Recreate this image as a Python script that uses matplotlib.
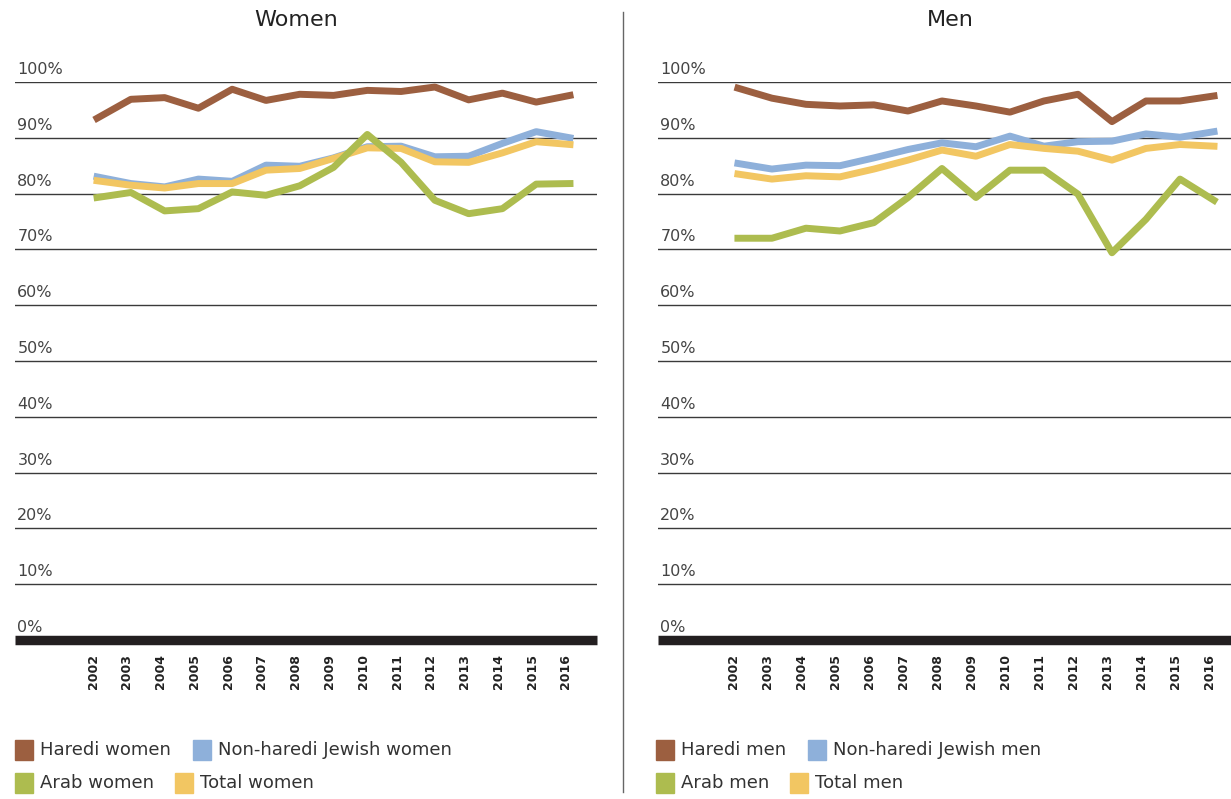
import matplotlib.pyplot as plt
from matplotlib.patches import Rectangle

years = [str(y) for y in range(2002, 2017)]
ticks = [100, 90, 80, 70, 60, 50, 40, 30, 20, 10, 0]

# women
haredi_w = [93.5, 96.9, 97.2, 95.3, 98.7, 96.7, 97.8, 97.6, 98.5, 98.3, 99.1, 96.8, 98.0, 96.4, 97.6]
jewish_w = [83.0, 81.8, 81.2, 82.6, 82.2, 85.1, 84.9, 86.4, 88.4, 88.5, 86.6, 86.7, 89.0, 91.1, 90.0]
arab_w = [79.3, 80.2, 76.9, 77.3, 80.3, 79.7, 81.4, 84.7, 90.6, 85.6, 78.8, 76.4, 77.3, 81.7, 81.8]
total_w = [82.3, 81.5, 81.0, 81.8, 81.8, 84.2, 84.5, 86.3, 88.2, 88.1, 85.7, 85.6, 87.3, 89.3, 88.8]

# men
haredi_m = [98.9, 97.1, 96.0, 95.7, 95.9, 94.8, 96.6, 95.7, 94.6, 96.6, 97.8, 92.9, 96.6, 96.6, 97.5]
jewish_m = [85.4, 84.4, 85.1, 85.0, 86.4, 87.9, 89.1, 88.4, 90.3, 88.5, 89.3, 89.4, 90.7, 90.1, 91.1]
arab_m = [72.0, 72.0, 73.8, 73.3, 74.8, 79.3, 84.5, 79.3, 84.2, 84.2, 79.9, 69.4, 75.4, 82.6, 78.8]
total_m = [83.5, 82.6, 83.2, 83.0, 84.4, 86.0, 87.8, 86.7, 88.8, 88.1, 87.6, 86.0, 88.1, 88.8, 88.5]

labels_w = ["Haredi women", "Non-haredi Jewish women", "Arab women", "Total women"]
labels_m = ["Haredi men", "Non-haredi Jewish men", "Arab men", "Total men"]

c_haredi = '#9c5f40'
c_jewish = '#8eb0da'
c_arab = '#adbc4f'
c_total = '#f2c662'

W, H = 1231, 799
fig = plt.figure(figsize=(W / 100, H / 100), dpi=100)

def panel(left, right, xlo, xhi, title, title_x, h, j, a, t, labs, leg_x):
    ax = fig.add_axes([left / W, 1 - 640 / H, (right - left) / W, (640 - 82) / H])
    x = list(range(len(years)))
    for v in ticks[:-1]:
        ax.axhline(v, color='#3a3a3a', lw=1.0, zorder=1)
    ax.axhline(0, color='#231f20', lw=6.8, zorder=1, solid_capstyle='butt', clip_on=False)
    for v in ticks:
        ax.text(0.004, v + 0.9, f"{v}%", transform=ax.get_yaxis_transform(),
                fontsize=11.5, color='#444444', ha='left', va='bottom')
    ax.plot(x, j, color=c_jewish, lw=5, solid_joinstyle='round', zorder=3)
    ax.plot(x, t, color=c_total, lw=5, solid_joinstyle='round', zorder=4)
    ax.plot(x, a, color=c_arab, lw=5, solid_joinstyle='round', zorder=5)
    ax.plot(x, h, color=c_haredi, lw=5, solid_joinstyle='round', zorder=6)
    ax.set_xlim(xlo, xhi)
    ax.set_ylim(0, 100)
    ax.set_xticks([i - 0.12 for i in x])
    ax.set_xticklabels(years, rotation=90, fontsize=9, fontweight='bold', color='#222222')
    ax.tick_params(axis='x', length=0, pad=10)
    ax.set_yticks([])
    for s in ax.spines.values():
        s.set_visible(False)
    ax.patch.set_alpha(0)
    fig.text(title_x / W, 1 - 20 / H, title, fontsize=16, color='#222222',
             ha='center', va='center')
    # legend
    cols = [c_haredi, c_jewish, c_arab, c_total]
    pos = [(leg_x[0], 750), (leg_x[1], 750), (leg_x[0], 783), (leg_x[2], 783)]
    for col, lab, (px, py) in zip(cols, labs, pos):
        fig.patches.append(Rectangle((px / W, 1 - (py + 10) / H), 18 / W, 20 / H,
                                     transform=fig.transFigure, color=col))
        fig.text((px + 25) / W, 1 - py / H, lab, fontsize=13, color='#333333',
                 ha='left', va='center')
    return ax

panel(15, 597, -2.43, 14.8, "Women", 296, haredi_w, jewish_w, arab_w, total_w, labels_w, (15, 193, 175))
panel(658, 1231, -2.35, 14.5, "Men", 950, haredi_m, jewish_m, arab_m, total_m, labels_m, (656, 808, 790))

fig.add_artist(plt.Line2D([623 / W, 623 / W], [1 - 12 / H, 1 - 792 / H], color='#666666', lw=1))

fig.savefig('out.png', dpi=100, facecolor='white')
